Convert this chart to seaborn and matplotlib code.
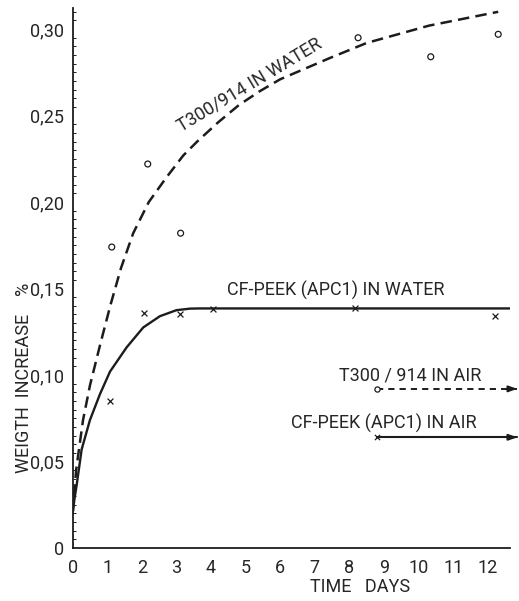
import numpy as np
import seaborn as sns
import matplotlib.pyplot as plt
from matplotlib.ticker import MultipleLocator, FixedLocator

# measured points
t300_water_days = [1.13, 2.17, 3.12, 8.25, 10.35, 12.3]
t300_water_pct = [0.174, 0.222, 0.182, 0.295, 0.284, 0.297]
peek_water_days = [1.08, 2.07, 3.1, 4.06, 8.15, 12.2]
peek_water_pct = [0.085, 0.136, 0.135, 0.138, 0.139, 0.134]

# fitted curves
t300_fit_days = [0.0, 0.1, 0.3, 0.5, 0.8, 1.1, 1.4, 1.75, 2.2, 2.7, 3.2, 3.6,
                 4.2, 4.8, 5.4, 6.0, 6.7, 7.4, 8.5, 9.4, 10.3, 11.3, 12.3]
t300_fit_pct = [0.020, 0.045, 0.074, 0.094, 0.118, 0.141, 0.162, 0.182, 0.200,
                0.214, 0.227, 0.235, 0.246, 0.256, 0.264, 0.271, 0.277, 0.283,
                0.292, 0.297, 0.302, 0.306, 0.310]
peek_fit_days = [0.0, 0.05, 0.12, 0.26, 0.5, 0.79, 1.08, 1.56, 2.04, 2.52,
                 3.0, 3.4, 3.7, 12.64]
peek_fit_pct = [0.020, 0.028, 0.037, 0.057, 0.074, 0.089, 0.102, 0.116, 0.1275,
                0.134, 0.1375, 0.1384, 0.1385, 0.1385]

# air exposure (start point + arrow end)
air_days = [8.8, 12.85]
t300_air_pct = [0.092, 0.092]
peek_air_pct = [0.064, 0.064]

y_ticks = [0, 0.05, 0.10, 0.15, 0.20, 0.25, 0.30]
y_tick_labels = ["0", "0,05", "0,10", "0,15", "0,20", "0,25", "0,30"]
x_ticks = list(range(0, 13))

ink = "#1c1c1c"
txt = "#262626"
fs = 13

sns.set_style("white")
plt.rcParams["font.family"] = ["Roboto", "DejaVu Sans"]

fig = plt.figure(figsize=(5.19, 6.01), dpi=100)
ax = fig.add_axes([0.140, 0.0882, 0.8426, 0.8985])

# fitted curves
sns.lineplot(x=t300_fit_days, y=t300_fit_pct, ax=ax, color=ink, linewidth=1.8,
             linestyle=(0, (4.6, 2.5)), sort=False, estimator=None)
sns.lineplot(x=peek_fit_days, y=peek_fit_pct, ax=ax, color=ink, linewidth=1.7,
             sort=False, estimator=None)

# measured points
sns.scatterplot(x=t300_water_days, y=t300_water_pct, ax=ax, marker="o", s=18,
                facecolor="none", edgecolor=ink, linewidth=0.9)
sns.scatterplot(x=peek_water_days, y=peek_water_pct, ax=ax, marker="x", s=18,
                color=ink, linewidth=0.9)

# air curves with arrows
ax.plot(air_days, t300_air_pct, color=ink, linewidth=1.4, linestyle=(0, (3.2, 2.6)),
        clip_on=False, zorder=2)
ax.plot(air_days, peek_air_pct, color=ink, linewidth=1.5, clip_on=False, zorder=2)
ax.scatter(air_days[:1], t300_air_pct[:1], marker="o", s=14, facecolor="white",
           edgecolor=ink, linewidth=0.9, zorder=3)
ax.scatter(air_days[:1], peek_air_pct[:1], marker="x", s=14, color=ink,
           linewidth=0.9, zorder=3)
for yv in (t300_air_pct, peek_air_pct):
    ax.annotate("", xy=(air_days[-1], yv[-1]), xytext=(air_days[-1] - 0.3, yv[-1]),
                arrowprops=dict(arrowstyle="-|>,head_length=0.5,head_width=0.18",
                                color=ink, lw=1.4, shrinkA=0, shrinkB=0),
                annotation_clip=False)

ax.set_xlim(0, 12.64)
ax.set_ylim(0, 0.3122)

sns.despine(ax=ax)
for side in ("left", "bottom"):
    ax.spines[side].set_color(ink)
    ax.spines[side].set_linewidth(1.3)

ax.xaxis.set_major_locator(FixedLocator(x_ticks))
ax.set_xticklabels([str(v) for v in x_ticks], fontsize=fs, color=txt)
ax.yaxis.set_major_locator(FixedLocator(y_ticks))
ax.set_yticklabels(y_tick_labels, fontsize=fs, color=txt)
ax.yaxis.set_minor_locator(MultipleLocator(0.005))
ax.tick_params(axis="x", direction="in", length=4, width=0.9, color=ink, pad=8)
ax.tick_params(axis="y", which="major", direction="out", length=5, width=0.9,
               color=ink, pad=1)
ax.tick_params(axis="y", which="minor", direction="in", length=2.5, width=0.7,
               color=ink, left=True)

ax.set_xlabel("")
ax.set_ylabel("")
fig.text(360 / 519, 1 - 587 / 601, "TIME   DAYS", fontsize=fs, color=txt,
         ha="center", va="center")
fig.text(24 / 519, 1 - 378 / 601, "WEIGTH  INCREASE    %", fontsize=fs, color=txt,
         ha="center", va="center", rotation=90)

ax.text(5.1, 0.2675, "T300/914 IN WATER", fontsize=fs, color=txt,
        ha="center", va="center", rotation=31, rotation_mode="anchor")
ax.text(7.61, 0.149, "CF-PEEK (APC1) IN WATER", fontsize=fs, color=txt,
        ha="center", va="center")
ax.text(9.75, 0.0997, "T300 / 914 IN AIR", fontsize=fs, color=txt,
        ha="center", va="center")
ax.text(8.98, 0.0723, "CF-PEEK (APC1) IN AIR", fontsize=fs, color=txt,
        ha="center", va="center")

fig.savefig("out.png", dpi=100)
